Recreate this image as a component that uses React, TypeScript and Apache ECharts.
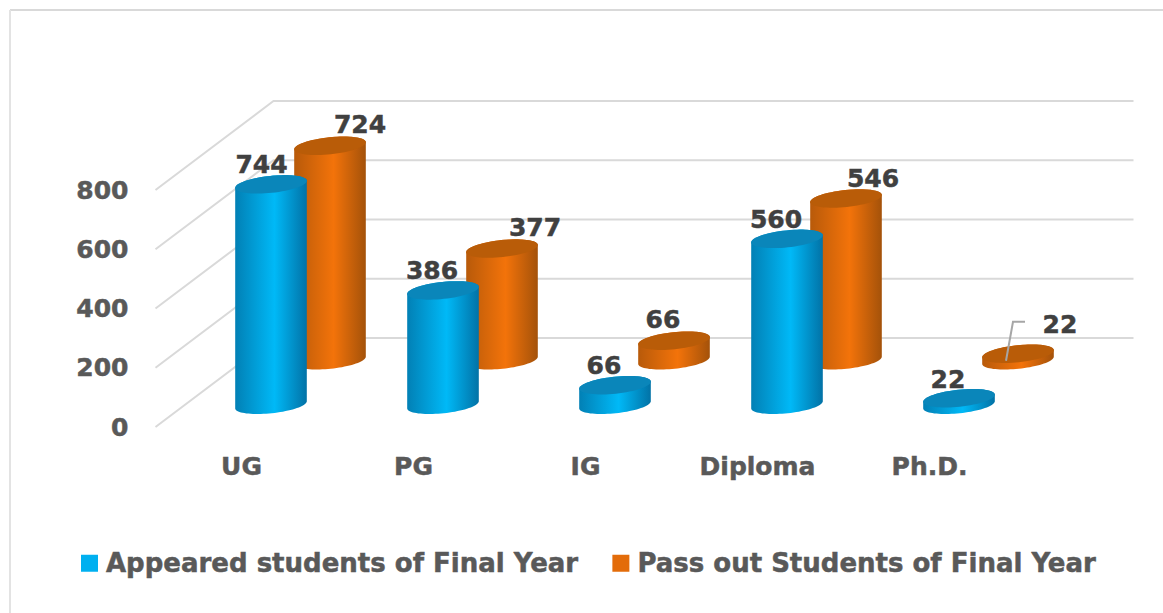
import React, { useEffect, useRef } from "react";
import * as echarts from "echarts";

const categories = ["UG", "PG", "IG", "Diploma", "Ph.D."];
const appeared = [744, 386, 66, 560, 22];
const passOut = [724, 377, 66, 546, 22];
const yTicks = [0, 200, 400, 600, 800];
const seriesNames = ["Appeared students of Final Year", "Pass out Students of Final Year"];

const DEPTH_X = 118;
const DEPTH_Y = 89;
const RX = 36;
const RY = 8.5;
const TILT = -6 * Math.PI / 180;
const FONT = "'DejaVu Sans', sans-serif";

const appearedLabelOffsets = [[-9.5, -20], [-11, -20], [-11, -20], [-11, -19], [-11, -19]];
const passOutLabelOffsets = [[30, -21], [33, -21], [-11, -21], [27, -20], [42, -29]];

function ellipsePoint(cx: number, cy: number, a: number) {
  const px = RX * Math.cos(a);
  const py = RY * Math.sin(a);
  return [cx + px * Math.cos(TILT) - py * Math.sin(TILT), cy + px * Math.sin(TILT) + py * Math.cos(TILT)];
}

function arcPoints(cx: number, cy: number, from: number, to: number, n: number) {
  const pts: number[][] = [];
  for (let k = 0; k <= n; k++) pts.push(ellipsePoint(cx, cy, from + ((to - from) * k) / n));
  return pts;
}

function cylinderRender(depth: number, offsets: number[][], pal: any) {
  return (params: any, api: any) => {
    const i = api.value(0);
    const v = api.value(1);
    const top = api.coord([i, v]);
    const base = api.coord([i, 0]);
    const cx = base[0] + DEPTH_X * depth;
    const by = base[1] - DEPTH_Y * depth;
    const ty = top[1] - DEPTH_Y * depth;
    const off = offsets[params.dataIndex];
    const sidePts = [...arcPoints(cx, by, Math.PI, 0, 40), ...arcPoints(cx, ty, 0, -Math.PI, 40)];
    const children: any[] = [
      {
        type: "polygon",
        shape: { points: sidePts },
        style: {
          fill: new echarts.graphic.LinearGradient(0, 0, 1, 0, [
            { offset: 0, color: pal.sideEdgeL },
            { offset: 0.55, color: pal.sideMid },
            { offset: 1, color: pal.sideEdgeR },
          ]),
        },
      },
      { type: "polygon", shape: { points: arcPoints(cx, ty, 0, Math.PI * 2, 64) }, style: { fill: pal.cap } },
    ];
    if (params.dataIndex === 4 && depth > 0.5) {
      children.push({
        type: "polyline",
        shape: { points: [[cx - 12, ty + 7], [cx - 5, ty - 32], [cx + 7, ty - 32]] },
        style: { stroke: "#a6a6a6", lineWidth: 2, fill: "none" },
      });
    }
    children.push({
      type: "text",
      style: {
        x: cx + off[0],
        y: ty + off[1],
        text: String(v),
        fill: "#404040",
        stroke: "#404040",
        lineWidth: 0.5,
        font: `bold 25px ${FONT}`,
        align: "center",
        verticalAlign: "middle",
      },
    });
    return { type: "group", children };
  };
}

function wallRender(params: any, api: any) {
  const y = api.coord([0, api.value(1)])[1];
  const x0 = params.coordSys.x;
  const x1 = x0 + params.coordSys.width;
  return {
    type: "polyline",
    shape: { points: [[x0, y], [x0 + DEPTH_X, y - DEPTH_Y], [x1 + DEPTH_X, y - DEPTH_Y]] },
    style: { stroke: "#d9d9d9", lineWidth: 2, fill: "none" },
  };
}

const BLUE = { sideEdgeL: "#0280b5", sideMid: "#00b9f7", sideEdgeR: "#0272a6", cap: "#0a86ba" };
const ORANGE = { sideEdgeL: "#b85a0a", sideMid: "#f3730a", sideEdgeR: "#a4520a", cap: "#b95c08" };

export default function App() {
  const ref = useRef<HTMLDivElement>(null);
  useEffect(() => {
    const chart = echarts.init(ref.current!, undefined, { renderer: "svg" });
    chart.setOption({
      animation: false,
      backgroundColor: "#ffffff",
      graphic: [
        { type: "line", shape: { x1: 10, y1: 10, x2: 1163, y2: 10 }, style: { stroke: "#d9d9d9", lineWidth: 2 }, silent: true, z: 0 },
        { type: "line", shape: { x1: 10, y1: 10, x2: 10, y2: 613 }, style: { stroke: "#e3e3e3", lineWidth: 2 }, silent: true, z: 0 },
      ],
      grid: { left: 155.5, top: 190, width: 860, height: 237 },
      xAxis: {
        type: "category",
        data: categories,
        axisLine: { show: false },
        axisTick: { show: false },
        axisLabel: { color: "#595959", fontFamily: FONT, fontWeight: "bold", fontSize: 25, margin: 27, textBorderColor: "#595959", textBorderWidth: 0.5 },
      },
      yAxis: {
        type: "value",
        min: 0,
        max: 800,
        interval: 200,
        axisLine: { show: false },
        axisTick: { show: false },
        splitLine: { show: false },
        axisLabel: { color: "#595959", fontFamily: FONT, fontWeight: "bold", fontSize: 25, margin: 27, padding: [4, 0, 0, 0], textBorderColor: "#595959", textBorderWidth: 0.5, formatter: (v: number) => (yTicks.includes(v) ? String(v) : "") },
      },
      legend: {
        left: 81,
        top: 550,
        padding: 0,
        itemWidth: 17,
        itemHeight: 17,
        itemGap: 34,
        data: [
          { name: seriesNames[0], icon: "rect", itemStyle: { color: "#00b0f0" } },
          { name: seriesNames[1], icon: "rect", itemStyle: { color: "#e36c0a" } },
        ],
        textStyle: { color: "#595959", fontFamily: FONT, fontWeight: "bold", fontSize: 26, padding: [0, 0, 0, 3], textBorderColor: "#595959", textBorderWidth: 0.5 },
      },
      series: [
        { type: "custom", name: "walls", z: 1, silent: true, renderItem: wallRender, data: yTicks.map((t) => [0, t]) },
        {
          type: "custom",
          name: seriesNames[1],
          z: 2,
          itemStyle: { color: "#e36c0a" },
          renderItem: cylinderRender(0.75, passOutLabelOffsets, ORANGE),
          data: passOut.map((v, i) => [i, v]),
        },
        {
          type: "custom",
          name: seriesNames[0],
          z: 3,
          itemStyle: { color: "#00b0f0" },
          renderItem: cylinderRender(0.25, appearedLabelOffsets, BLUE),
          data: appeared.map((v, i) => [i, v]),
        },
      ],
    });
    return () => chart.dispose();
  }, []);
  return <div ref={ref} style={{ position: "fixed", left: 0, top: 0, width: 1163, height: 613 }} />;
}
